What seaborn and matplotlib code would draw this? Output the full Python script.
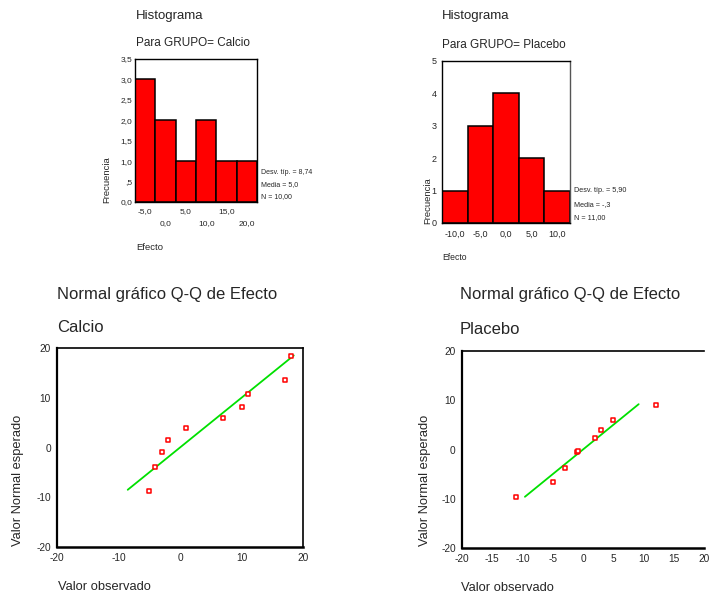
import matplotlib
matplotlib.use("Agg")
import matplotlib.pyplot as plt
import seaborn as sns
import pandas as pd

# observed values (Efecto) per group
calcio_obs = [-5, -4, -3, -2, 1, 7, 10, 11, 17, 18]
placebo_obs = [-11, -5, -3, -3, -1, -1, -1, 2, 3, 5, 12]

# expected normal values
calcio_qq_x = [-5, -4, -3, -2, 1, 7, 10, 11, 17, 18]
calcio_qq_y = [-8.7, -3.9, -1.0, 1.6, 3.9, 5.9, 8.2, 10.7, 13.6, 18.4]
placebo_qq_x = [-11, -5, -3, -1, -0.9, 2, 3, 5, 12]
placebo_qq_y = [-9.6, -6.5, -3.8, -0.6, -0.3, 2.3, 3.9, 6.0, 9.0]

# reference lines (y = x)
calcio_line = [-8.5, 18.5]
placebo_line = [-9.6, 9.2]

calcio_stats = ["Desv. típ. = 8,74", "Media = 5,0", "N = 10,00"]
placebo_stats = ["Desv. típ. = 5,90", "Media = -,3", "N = 11,00"]

calcio_xticks = [-5, 0, 5, 10, 15, 20]
calcio_xlabels = ["-5,0", "0,0", "5,0", "10,0", "15,0", "20,0"]
calcio_yticks = [0, 0.5, 1, 1.5, 2, 2.5, 3, 3.5]
calcio_ylabels = ["0,0", ",5", "1,0", "1,5", "2,0", "2,5", "3,0", "3,5"]
placebo_xticks = [-10, -5, 0, 5, 10]
placebo_xlabels = ["-10,0", "-5,0", "0,0", "5,0", "10,0"]
placebo_yticks = [0, 1, 2, 3, 4, 5]

sns.set_style("white")
plt.rcParams['font.family'] = ['Liberation Sans', 'DejaVu Sans']
plt.rcParams['axes.unicode_minus'] = False

W, H = 710, 596
fig = plt.figure(figsize=(W / 100, H / 100), dpi=100)


def box(l, t, r, b):
    return [l / W, (H - b) / H, (r - l) / W, (b - t) / H]


def ftext(x, y, s, **kw):
    fig.text(x / W, (H - y) / H, s, **kw)


def hist_panel(rect, data, brange, ylim, xticks, xlabels, yticks, ylabels):
    ax = fig.add_axes(rect)
    sns.histplot(x=data, binwidth=5, binrange=brange, color="#ff0000",
                 edgecolor="black", linewidth=1.1, alpha=1, ax=ax)
    ax.set_xlim(brange)
    ax.set_ylim(ylim)
    ax.set_xticks(xticks)
    ax.set_xticklabels(xlabels)
    ax.set_yticks(yticks)
    ax.set_yticklabels(ylabels)
    ax.set_xlabel("")
    ax.set_ylabel("")
    for s in ax.spines.values():
        s.set_color("black")
        s.set_linewidth(1.0)
    ax.tick_params(axis="both", labelsize=6, length=2, width=1.5,
                   direction="out", pad=2, color="black")
    return ax


# --- Calcio histogram
ax1 = hist_panel(box(135, 59, 257, 202), calcio_obs, (-7.5, 22.5), (0, 3.5),
                 calcio_xticks, calcio_xlabels, calcio_yticks, calcio_ylabels)
ax1.tick_params(length=0)
ax1.tick_params(axis="x", pad=4)
for t in ax1.xaxis.get_major_ticks()[1::2]:
    t.set_pad(13)
ftext(136, 16, "Histograma", fontsize=9.5, va="center")
ftext(136, 43, "Para GRUPO= Calcio", fontsize=8.5, va="center")
ftext(107, 180, "Frecuencia", fontsize=6.8, rotation=90, ha="center", va="center")
ftext(136, 248, "Efecto", fontsize=6.8, va="center")
for i, s in enumerate(calcio_stats):
    ftext(261, 172 + 12.5 * i, s, fontsize=5, va="center")

# --- Placebo histogram
ax2 = hist_panel(box(442, 61, 570, 223), placebo_obs, (-12.5, 12.5), (0, 5),
                 placebo_xticks, placebo_xlabels, placebo_yticks,
                 [str(v) for v in placebo_yticks])
ax2.tick_params(axis="x", pad=3)
ax2.tick_params(axis="both", labelsize=6.5)
ax2.spines["right"].set_color("#555555")
ftext(442, 16, "Histograma", fontsize=9.5, va="center")
ftext(442, 45, "Para GRUPO= Placebo", fontsize=8.5, va="center")
ftext(428, 201, "Frecuencia", fontsize=6.8, rotation=90, ha="center", va="center")
ftext(442, 258, "Efecto", fontsize=6.2, va="center")
for i, s in enumerate(placebo_stats):
    ftext(574, 190.5 + 13.7 * i, s, fontsize=5.2, va="center")


def qq_panel(rect, qx, qy, line, xticks):
    ax = fig.add_axes(rect)
    sns.lineplot(x=line, y=line, color="#00e000", linewidth=1.3, ax=ax)
    sns.scatterplot(x=qx, y=qy, marker="s", s=9, facecolor="white",
                    edgecolor="#ff0000", linewidth=1.1, ax=ax, zorder=3)
    ax.set_xlim(-20, 20)
    ax.set_ylim(-20, 20)
    ax.set_xticks(xticks)
    ax.set_yticks([-20, -10, 0, 10, 20])
    for s in ax.spines.values():
        s.set_color("black")
        s.set_linewidth(1.2)
    ax.spines["bottom"].set_linewidth(1.8)
    ax.spines["left"].set_linewidth(1.6)
    ax.tick_params(axis="both", labelsize=7.3, length=2.5, width=2,
                   direction="out", pad=2, color="black")
    return ax


# --- Calcio Q-Q
qq_panel(box(57, 348, 303, 547), calcio_qq_x, calcio_qq_y, calcio_line,
         [-20, -10, 0, 10, 20])
ftext(57, 295, "Normal gráfico Q-Q de Efecto", fontsize=12, va="center")
ftext(57, 328, "Calcio", fontsize=12, va="center")
ftext(18, 480, "Valor Normal esperado", fontsize=9.3, rotation=90,
      ha="center", va="center")
ftext(58, 587, "Valor observado", fontsize=9.3, va="center")

# --- Placebo Q-Q (right edge runs off the picture in the reference)
ax4 = qq_panel(box(462, 351, 704, 548), placebo_qq_x, placebo_qq_y, placebo_line,
               list(range(-20, 25, 5)))
ax4.spines["right"].set_visible(False)
ftext(460, 295, "Normal gráfico Q-Q de Efecto", fontsize=12, va="center")
ftext(460, 330, "Placebo", fontsize=12, va="center")
ftext(425, 480, "Valor Normal esperado", fontsize=9.3, rotation=90,
      ha="center", va="center")
ftext(461, 588, "Valor observado", fontsize=9.3, va="center")

fig.savefig("out.png", dpi=100)
